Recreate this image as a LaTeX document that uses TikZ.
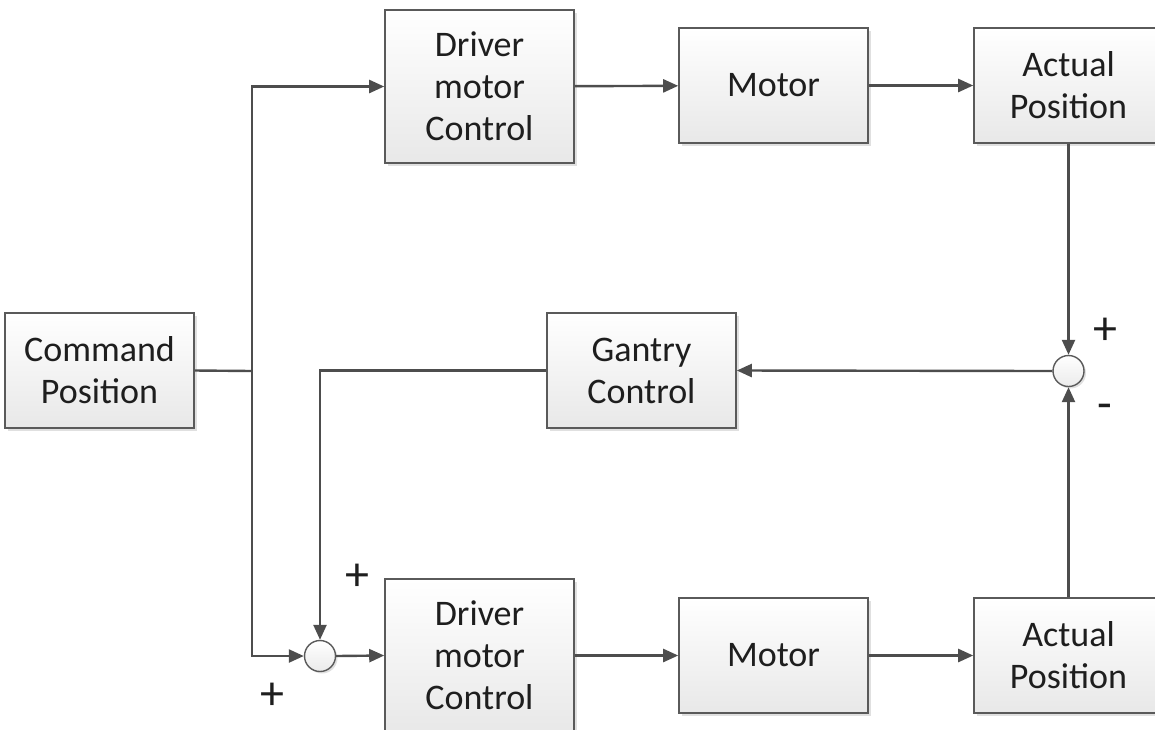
\documentclass[tikz,border=0pt]{standalone}
\usepackage{fontspec}
\setmainfont{Carlito}
\usetikzlibrary{arrows.meta,shadows}
\definecolor{linegray}{HTML}{4D4D4D}
\definecolor{boxborder}{HTML}{5A5A5A}
\definecolor{txt}{HTML}{1E1E1E}
\tikzset{
  blk/.style={draw=boxborder, line width=1.6pt, top color=white, bottom color=black!9,
    minimum width=189pt, align=center, text=txt, inner sep=0pt,
    font=\fontsize{36}{42}\selectfont,
    drop shadow={shadow xshift=3pt, shadow yshift=-3pt, fill=black, opacity=0.12}},
  sumj/.style={circle, draw=boxborder, line width=1.4pt, top color=white, bottom color=black!8,
    minimum size=31pt, inner sep=0pt,
    drop shadow={shadow xshift=2pt, shadow yshift=-2pt, fill=black, opacity=0.12}},
  wire/.style={draw=linegray, line width=2.4pt},
  arr/.style={wire, -{Triangle[length=15pt,width=13pt]}},
  sign/.style={text=txt, font=\fontsize{48}{48}\selectfont, inner sep=0pt}
}
\begin{document}
\begin{tikzpicture}[x=1pt,y=-1pt]
\useasboundingbox (0,0) rectangle (1155,729);
% blocks
\node[blk, minimum height=153pt] (drv1) at (479.5,86.5) {Driver\\motor\\Control};
\node[blk, minimum height=115pt] (mot1) at (773.5,85.5) {Motor};
\node[blk, minimum height=115pt] (act1) at (1068.5,85.5) {Actual\\Position};
\node[blk, minimum height=115pt] (cmd) at (99.5,370.5) {Command\\Position};
\node[blk, minimum height=115pt] (gan) at (641.5,370.5) {Gantry\\Control};
\node[blk, minimum height=153pt] (drv2) at (479.5,655.5) {Driver\\motor\\Control};
\node[blk, minimum height=115pt] (mot2) at (773.5,655.5) {Motor};
\node[blk, minimum height=115pt] (act2) at (1068.5,655.5) {Actual\\Position};
% junctions
\node[sumj] (sum1) at (1068.5,371) {};
\node[sumj] (sum2) at (320,656) {};
\coordinate (j1) at (252,371);
% signs
\node[sign] (p1) at (1105,331) {+};
\node[sign] (m1) at (1105,412) {-};
\node[sign] (p2) at (357,577) {+};
\node[sign] (p3) at (272,696) {+};
% connectors
\draw[wire] (cmd.east) -- (j1);
\draw[arr] (j1) |- (drv1.west);
\draw[arr] (j1) |- (sum2.west);
\draw[arr] (drv1) -- (mot1);
\draw[arr] (mot1) -- (act1);
\draw[arr] (act1.south) -- (sum1.north);
\draw[arr] (act2.north) -- (sum1.south);
\draw[arr] (sum1.west) -- (gan.east);
\draw[arr] (gan.west) -| (sum2.north);
\draw[arr] (sum2.east) -- (drv2.west);
\draw[arr] (drv2) -- (mot2);
\draw[arr] (mot2) -- (act2);
\end{tikzpicture}
\end{document}
